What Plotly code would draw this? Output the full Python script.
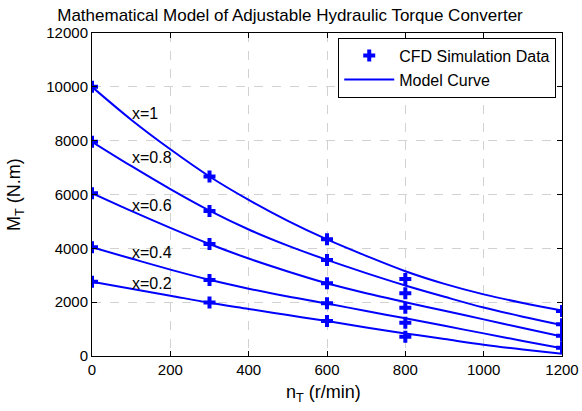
import plotly.graph_objects as go

# ---- data ----
speed_grid = [0, 100, 200, 300, 400, 500, 600, 700, 800, 900, 1000, 1100, 1200]
curve_x10 = [10000, 8780, 7680, 6670, 5800, 5020, 4330, 3720, 3150, 2680, 2290, 1970, 1690]
curve_x08 = [7960, 7060, 6200, 5400, 4700, 4100, 3570, 3080, 2620, 2200, 1800, 1460, 1150]
curve_x06 = [6050, 5390, 4760, 4160, 3620, 3140, 2700, 2330, 2000, 1680, 1360, 1040, 720]
curve_x04 = [4040, 3620, 3210, 2830, 2500, 2210, 1950, 1670, 1400, 1120, 840, 560, 290]
curve_x02 = [2760, 2500, 2240, 1980, 1750, 1520, 1300, 1060, 840, 630, 420, 240, 80]

cfd_speed = [0, 0, 0, 0, 0,
             300, 300, 300, 300, 300,
             600, 600, 600, 600, 600,
             800, 800, 800, 800, 800,
             1200, 1200, 1200, 1200]
cfd_torque = [10000, 7960, 6050, 4040, 2760,
              6666, 5390, 4164, 2825, 1983,
              4335, 3566, 2700, 1957, 1300,
              2860, 2328, 1795, 1238, 717,
              1672, 1176, 755, 309]

label_texts = ["x=1", "x=0.8", "x=0.6", "x=0.4", "x=0.2"]
label_x = [100, 100, 100, 100, 100]
label_y = [9020, 7390, 5590, 3840, 2700]

x_ticks = [0, 200, 400, 600, 800, 1000, 1200]
y_ticks = [0, 2000, 4000, 6000, 8000, 10000, 12000]

FONT = "Liberation Sans, Arial, Helvetica, sans-serif"
BLUE = "#0000ff"

fig = go.Figure()
curves = [curve_x10, curve_x08, curve_x06, curve_x04, curve_x02]
for i, c in enumerate(curves):
    fig.add_trace(go.Scatter(
        x=speed_grid, y=c, mode="lines",
        line=dict(color=BLUE, width=2, shape="spline"),
        name="Model Curve",
        showlegend=(i == 0), legendrank=2, hoverinfo="skip"))

fig.add_trace(go.Scatter(
    x=cfd_speed, y=cfd_torque, mode="markers",
    marker=dict(symbol="cross", size=10, color=BLUE, line=dict(width=0)),
    name="CFD Simulation Data", legendrank=1))

for t, lx, ly in zip(label_texts, label_x, label_y):
    fig.add_annotation(x=lx, y=ly, text=t, showarrow=False,
                       xanchor="left", yanchor="middle", borderpad=0,
                       font=dict(family=FONT, size=16, color="black"))

# axis titles as annotations for exact placement
fig.add_annotation(xref="paper", yref="paper", x=(324 - 92) / 470.5, y=(356 - 393) / 322.7,
                   text="n<sub>T</sub> (r/min)", showarrow=False,
                   xanchor="center", yanchor="middle",
                   font=dict(family=FONT, size=18, color="black"))
fig.add_annotation(xref="paper", yref="paper", x=(16 - 92) / 470.5, y=(356 - 195) / 322.7,
                   text="M<sub>T</sub> (N.m)", showarrow=False, textangle=-90,
                   xanchor="center", yanchor="middle",
                   font=dict(family=FONT, size=18, color="black"))

axis_common = dict(
    showline=True, linecolor="black", linewidth=1, mirror="ticks",
    ticks="inside", ticklen=5, tickcolor="black", tickwidth=1,
    showgrid=True, gridcolor="#d2d2d2", griddash="dash", gridwidth=1,
    zeroline=False, automargin=False, tickformat="d",
    tickfont=dict(family=FONT, size=15, color="black"),
)

fig.update_layout(
    width=582, height=411,
    margin=dict(l=92, r=20, t=33, b=55, autoexpand=False),
    paper_bgcolor="white", plot_bgcolor="white",
    title=dict(text="Mathematical Model of Adjustable Hydraulic Torque Converter",
               x=290 / 582, xanchor="center", xref="container",
               y=1 - 15.5 / 411, yanchor="middle", yref="container",
               font=dict(family=FONT, size=17, color="black")),
    xaxis=dict(range=[0, 1200], tickvals=x_ticks, **axis_common),
    yaxis=dict(range=[0, 12000], tickvals=y_ticks, **axis_common),
    legend=dict(x=(338.5 - 92) / 470.5, y=(356 - 38) / 322.7,
                xanchor="left", yanchor="top",
                bgcolor="white", bordercolor="black", borderwidth=1,
                font=dict(family=FONT, size=16, color="black"),
                itemwidth=50, tracegroupgap=0),
    showlegend=True,
)

fig.write_html("out.html",
               config={"displayModeBar": False},
               post_script="document.body.style.margin='0';document.body.style.padding='0';")
